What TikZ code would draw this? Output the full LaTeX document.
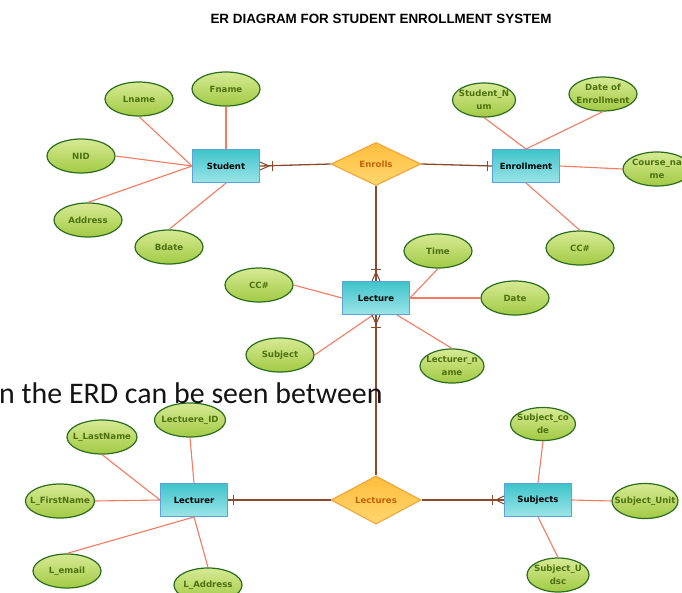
\documentclass[tikz,border=0pt]{standalone}
\usepackage{fontspec}
\setmainfont{DejaVu Sans}
\newfontfamily\titlefont{Liberation Sans}
\newfontfamily\bigfont{Carlito}
\usetikzlibrary{shapes.geometric,calc}
\newcommand\zb[1]{\makebox[0pt][c]{#1}}
\definecolor{entB}{HTML}{5BA3D9}
\definecolor{entT}{HTML}{3EC4CA}
\definecolor{entBot}{HTML}{9CE4E8}
\definecolor{attB}{HTML}{2D6E1E}
\definecolor{attT}{HTML}{D6EA94}
\definecolor{attBot}{HTML}{A2CA44}
\definecolor{attTx}{HTML}{4E7010}
\definecolor{relB}{HTML}{F4A030}
\definecolor{relT}{HTML}{FFBE3C}
\definecolor{relBot}{HTML}{FFD670}
\definecolor{relTx}{HTML}{C4640A}
\definecolor{attL}{HTML}{F47A60}
\definecolor{relL}{HTML}{8A4A2C}
\begin{document}
\begin{tikzpicture}[x=1pt,y=-1pt,
  entity/.style={rectangle, draw=entB, line width=1pt, top color=entT, bottom color=entBot,
    minimum width=67pt, minimum height=33pt, inner sep=0pt,
    font=\bfseries\fontsize{8.5}{10}\selectfont, text=black},
  attr/.style={ellipse, draw=attB, line width=1.2pt, top color=attT, bottom color=attBot,
    minimum width=68pt, minimum height=34pt, inner sep=0pt, align=center,
    font=\bfseries\fontsize{8.6}{12.5}\selectfont, text=attTx},
  relship/.style={diamond, draw=relB, line width=1pt, top color=relT, bottom color=relBot,
    minimum width=90pt, minimum height=43pt, inner sep=0pt,
    font=\bfseries\fontsize{8.6}{10}\selectfont, text=relTx},
  attline/.style={draw=attL, line width=1.1pt},
  relline/.style={draw=relL, line width=1.3pt}
]
\useasboundingbox (0,0) rectangle (682,592);
\clip (0,0) rectangle (682,592);
\fill[white] (0,0) rectangle (682,592);

% title
\node[font=\titlefont\bfseries\fontsize{13.4}{15}\selectfont, text=black] (title) at (381,19) {ER DIAGRAM FOR STUDENT ENROLLMENT SYSTEM};

% entities
\node[entity] (Student) at (226,166) {Student};
\node[entity] (Enrollment) at (526,166) {Enrollment};
\node[entity] (Lecture) at (376,298) {Lecture};
\node[entity] (Lecturer) at (194,500) {Lecturer};
\node[entity] (Subjects) at (538,500) {Subjects};

% relationships
\node[relship] (Enrolls) at (376,164) {Enrolls};
\node[relship] (Lectures) at (376,500) {Lectures};

% attributes: Student
\node[attr] (Lname) at (139,99) {\zb{Lname}};
\node[attr] (Fname) at (226,89) {\zb{Fname}};
\node[attr] (NID) at (81,156) {\zb{NID}};
\node[attr] (Address) at (88,220) {\zb{Address}};
\node[attr] (Bdate) at (169,247) {\zb{Bdate}};
% attributes: Enrollment
\node[attr, minimum width=63pt] (StudentNum) at (484,100) {\zb{Student\_N}\\\zb{um}};
\node[attr] (DateEnr) at (603,94) {\zb{Date of}\\\zb{Enrollment}};
\node[attr] (CourseName) at (657,169) {\zb{Course\_na}\\\zb{me}};
\node[attr] (CCa) at (580,248) {\zb{CC\#}};
% attributes: Lecture
\node[attr] (Time) at (438,251) {\zb{Time}};
\node[attr] (CCb) at (259,285) {\zb{CC\#}};
\node[attr] (Date) at (515,298) {\zb{Date}};
\node[attr] (Subject) at (280,355) {\zb{Subject}};
\node[attr, minimum width=64pt] (LecturerName) at (452,366) {\zb{Lecturer\_n}\\\zb{ame}};
% attributes: Lecturer
\node[attr, minimum width=71pt] (LectID) at (190,420) {\zb{Lectuere\_ID}};
\node[attr, minimum width=70pt] (LLast) at (102,437) {\zb{L\_LastName}};
\node[attr, minimum width=69pt] (LFirst) at (60,501) {\zb{L\_FirstName}};
\node[attr] (Lemail) at (67,571) {\zb{L\_email}};
\node[attr] (LAddress) at (208,585) {\zb{L\_Address}};
% attributes: Subjects
\node[attr, minimum width=65pt, minimum height=33pt] (SubCode) at (543,424) {\zb{Subject\_co}\\\zb{de}};
\node[attr, minimum width=66pt, minimum height=35pt] (SubUnit) at (645,501) {\zb{Subject\_Unit}};
\node[attr, minimum width=62pt] (SubUdsc) at (558,575) {\zb{Subject\_U}\\\zb{dsc}};

% attribute connectors
\draw[attline] (Lname.south) -- (Student.west);
\draw[attline] (NID.east) -- (Student.west);
\draw[attline] (Address.north) -- (Student.west);
\draw[attline] (Fname.south) -- (Student.north);
\draw[attline] (Bdate.north) -- (Student.south);

\draw[attline] (StudentNum.south) -- (Enrollment.north);
\draw[attline] (DateEnr.south) -- (Enrollment.north);
\draw[attline] (CourseName.west) -- (Enrollment.east);
\draw[attline] (CCa.north) -- (Enrollment.south);

\coordinate (LecS) at ($(Lecture.south)!0.62!(Lecture.south east)$);
\draw[attline] (Time.south) -- (Lecture.east);
\draw[attline] (Date.west) -- (Lecture.east);
\draw[attline] (CCb.east) -- (Lecture.west);
\draw[attline] (Subject.east) -- ($(Lecture.south)+(-3,0)$);
\draw[attline] (LecturerName.north) -- (LecS);

\draw[attline] (LectID.south) -- (Lecturer.north);
\draw[attline] (LLast.south) -- (Lecturer.west);
\draw[attline] (LFirst.east) -- (Lecturer.west);
\draw[attline] (Lemail.north) -- (Lecturer.south);
\draw[attline] (LAddress.north) -- (Lecturer.south);

\draw[attline] (SubCode.south) -- (Subjects.north);
\draw[attline] (SubUnit.west) -- (Subjects.east);
\draw[attline] (SubUdsc.north) -- (Subjects.south);

% relationship connectors
\draw[relline] (Student.east) -- (Enrolls.west);
\draw[relline] (Enrolls.east) -- (Enrollment.west);
\draw[relline] (Enrolls.south) -- (Lecture.north);
\draw[relline] (Lecture.south) -- (Lectures.north);
\draw[relline] (Lectures.west) -- (Lecturer.east);
\draw[relline] (Lectures.east) -- (Subjects.west);

% cardinality markers
\draw[relline, line width=1pt] ($(Student.east)+(0,-4)$) -- ($(Student.east)+(9,0)$) -- ($(Student.east)+(0,4)$);
\draw[relline, line width=1pt] ($(Student.east)+(12,-5)$) -- ($(Student.east)+(12,5)$);
\draw[relline, line width=1pt] ($(Enrollment.west)+(-5,-5)$) -- ($(Enrollment.west)+(-5,5)$);
\draw[relline, line width=1pt] ($(Lecture.north)+(-4,0)$) -- ($(Lecture.north)+(0,-9)$) -- ($(Lecture.north)+(4,0)$);
\draw[relline, line width=1pt] ($(Lecture.north)+(-5,-12)$) -- ($(Lecture.north)+(5,-12)$);
\draw[relline, line width=1pt] ($(Lecture.south)+(-4,0)$) -- ($(Lecture.south)+(0,9)$) -- ($(Lecture.south)+(4,0)$);
\draw[relline, line width=1pt] ($(Lecture.south)+(-5,12)$) -- ($(Lecture.south)+(5,12)$);
\draw[relline, line width=1pt] ($(Lecturer.east)+(5,-5)$) -- ($(Lecturer.east)+(5,5)$);
\draw[relline, line width=1pt] ($(Subjects.west)+(0,-4)$) -- ($(Subjects.west)+(-8,0)$) -- ($(Subjects.west)+(0,4)$);
\draw[relline, line width=1pt] ($(Subjects.west)+(-12,-5)$) -- ($(Subjects.west)+(-12,5)$);

% stray overlay text
\node[font=\bigfont\fontsize{29.9}{36}\selectfont, text=black!92, anchor=base west, inner sep=0pt] (overlay) at (-1,403) {n the ERD can be seen between};
\end{tikzpicture}
\end{document}
